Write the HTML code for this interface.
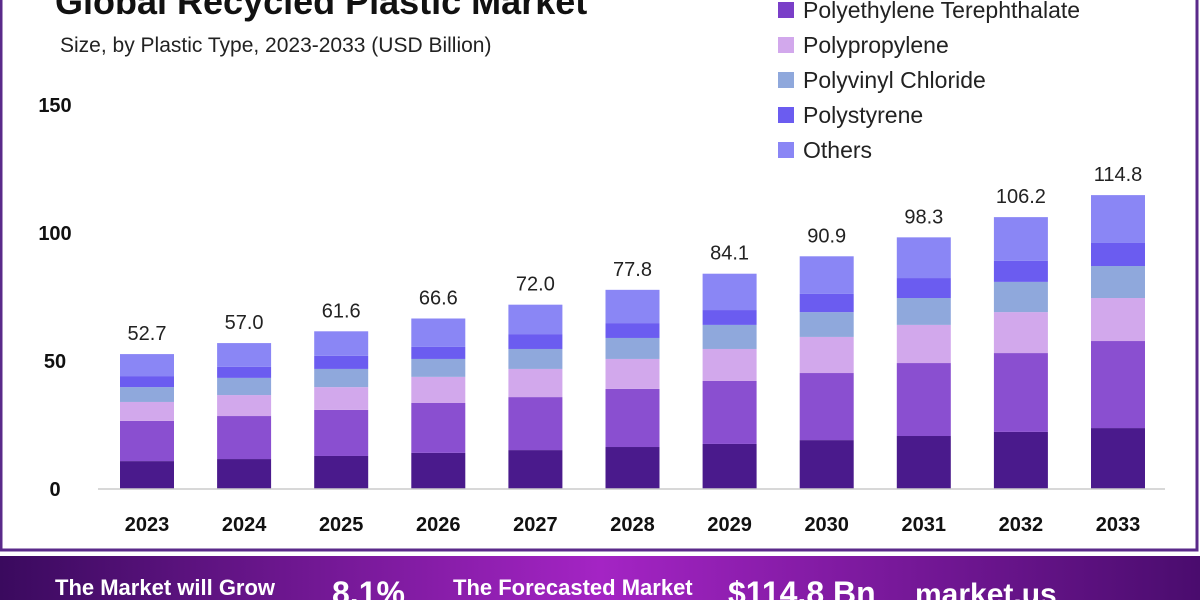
<!DOCTYPE html>
<html><head><meta charset="utf-8"><style>
body{margin:0;width:1200px;height:600px;overflow:hidden;background:#fff;font-family:"Liberation Sans",sans-serif}
svg{display:block}
</style></head><body>
<svg id="c" width="1200" height="600">
<defs><linearGradient id="bg" x1="0" x2="1"><stop offset="0" stop-color="#3a0a5e"/><stop offset="0.5" stop-color="#a424c4"/><stop offset="1" stop-color="#4a0c6e"/></linearGradient></defs>
<rect x="0" y="0" width="1200" height="600" fill="#fff"/>
<rect x="1" y="-2" width="1196" height="552" fill="none" stroke="#5a2a8a" stroke-width="3"/>
<text x="55" y="14" font-size="36" font-weight="bold" fill="#111">Global Recycled Plastic Market</text>
<text x="60" y="52" font-size="21" fill="#222">Size, by Plastic Type, 2023-2033 (USD Billion)</text>
<g id="yax"></g><g id="bars"></g><g id="legend"></g>
<line x1="98" y1="489" x2="1165" y2="489" stroke="#ccc" stroke-width="1.5"/>
<rect x="0" y="556" width="1200" height="44" fill="url(#bg)"/>
<g fill="#fff" font-weight="bold">
<text x="55" y="595" font-size="22">The Market will Grow</text>
<text x="332" y="604" font-size="32">8.1%</text>
<text x="453" y="595" font-size="22">The Forecasted Market</text>
<text x="728" y="604" font-size="32">$114.8 Bn</text>
<text x="915" y="604" font-size="30">market.us</text>
</g>
</svg>
<script>
const years=["2023","2024","2025","2026","2027","2028","2029","2030","2031","2032","2033"];
const totals=["52.7","57.0","61.6","66.6","72.0","77.8","84.1","90.9","98.3","106.2","114.8"];
const seriesNames=["Polyethylene","Polyethylene Terephthalate","Polypropylene","Polyvinyl Chloride","Polystyrene","Others"];
const polyethylene=[10.9,11.7,12.9,14.1,15.2,16.4,17.6,19.1,20.7,22.3,23.8];
const pet=[15.7,16.8,18.0,19.5,20.7,22.7,24.6,26.2,28.5,30.8,34.0];
const polypropylene=[7.4,8.2,8.9,10.2,11.0,11.7,12.5,14.1,14.9,16.0,16.8];
const pvc=[5.8,6.7,7.1,7.0,7.8,8.2,9.4,9.7,10.5,11.8,12.5];
const polystyrene=[4.3,4.3,5.1,4.7,5.8,5.8,5.8,7.1,7.8,8.2,9.0];
const others=[8.6,9.3,9.6,11.1,11.5,13.0,14.2,14.7,15.9,17.1,18.7];
const yTicks=[0,50,100,150];
const colors=["#4a1a8c","#8a4fd0","#d2a8ec","#8fa8dc","#6b5cf0","#8a86f5"];
const NS="http://www.w3.org/2000/svg";
const y=v=>489-v*2.56, x=i=>147+i*97.1;
function mk(t,a,p){const e=document.createElementNS(NS,t);for(const k in a)e.setAttribute(k,a[k]);p.appendChild(e);return e;}
const yax=document.getElementById('yax');
yTicks.forEach(t=>{const e=mk('text',{x:55,y:y(t)+7,'font-size':20,'font-weight':'bold','text-anchor':'middle',fill:'#111'},yax);e.textContent=t;

});
const bars=document.getElementById('bars');
const series=[polyethylene,pet,polypropylene,pvc,polystyrene,others];
years.forEach((yr,i)=>{let c=0;
series.forEach((s,k)=>{const r=mk('rect',{x:x(i)-27,y:y(c+s[i]),width:54,height:s[i]*2.56,fill:colors[k]},bars);c+=s[i];

});
const v=mk('text',{x:x(i),y:y(c)-14,'font-size':20,'text-anchor':'middle',fill:'#222'},bars);v.textContent=totals[i];


const l=mk('text',{x:x(i),y:531,'font-size':20,'font-weight':'bold','text-anchor':'middle',fill:'#111'},bars);l.textContent=yr;

});
const lg=document.getElementById('legend');
const legColors=["#4a1a8c","#7a3fc8","#d2a8ec","#8fa8dc","#6b5cf0","#8a86f5"];
seriesNames.forEach((n,k)=>{const cy=10+(k-1)*35;
const g=mk('g',{},lg);


mk('rect',{x:778,y:cy-8,width:16,height:16,fill:legColors[k]},g);
const t=mk('text',{x:803,y:cy+8,'font-size':23,fill:'#222'},g);t.textContent=n;});
</script>
</body></html>
